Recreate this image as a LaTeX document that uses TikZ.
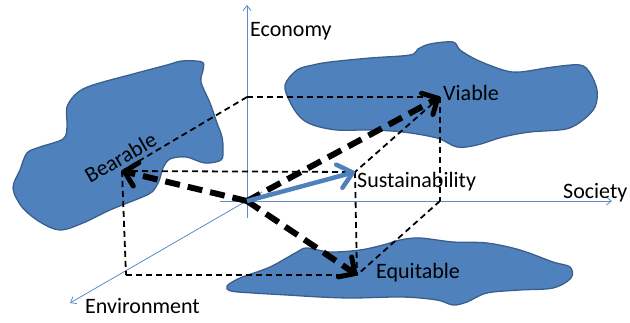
\documentclass[tikz,border=0pt]{standalone}
\usepackage{fontspec}
\setmainfont{Carlito}
\usetikzlibrary{arrows.meta}
\definecolor{blobfill}{HTML}{4F81BD}
\definecolor{blobline}{HTML}{3A5F8F}
\definecolor{axisblue}{HTML}{5B8BC9}
\tikzset{
  blob/.style={fill=blobfill, draw=blobline, line width=1.3pt},
  axis/.style={draw=axisblue, line width=0.8pt, -{Straight Barb[length=5pt,width=8pt,line width=0.8pt]}},
  thindash/.style={draw=black, line width=1.8pt, dash pattern=on 6pt off 4pt},
  thickarrow/.style={draw=black, line width=6pt, dash pattern=on 15pt off 8pt,
     -{Straight Barb[length=12pt,width=24pt,line width=5pt,round]}},
  bluearrow/.style={draw=blobfill, line width=4.5pt,
     -{Straight Barb[length=14pt,width=24pt,line width=4.5pt,round]}},
  lab/.style={font=\fontsize{22}{26}\selectfont, inner sep=0pt, anchor=base west}
}
\begin{document}
\begin{tikzpicture}[x=1pt,y=-1pt]
\useasboundingbox (0,0) rectangle (630,322);
% blobs
\path[blob] plot[smooth cycle, tension=0.55] coordinates {
 (182,61) (202,62) (203,70) (201,82) (210,103) (217,123) (222,137) (223,150) (221,160)
 (205,163) (186,157) (170,159) (163,168) (159,181) (152,192) (140,198) (110,210)
 (83,223) (60,230) (40,222) (22,207) (13,188) (20,170) (27,153) (40,147) (63,139)
 (67,127) (67,107) (77,93) (93,85) (133,74) (167,65)};
\path[blob] plot[smooth cycle, tension=0.55] coordinates {
 (285,85) (297,70) (313,65) (330,62) (370,58) (410,55) (418,49) (430,44) (453,42)
 (460,50) (477,60) (503,70) (520,72) (553,67) (580,65) (590,73) (597,90) (595,107)
 (583,120) (566,129) (530,132) (503,137) (477,145) (457,147) (437,138) (403,132)
 (370,130) (337,130) (313,125) (300,117) (290,102)};
\path[blob] plot[smooth cycle, tension=0.55] coordinates {
 (227,286) (240,278) (270,267) (297,252) (307,248) (330,252) (360,250) (383,245)
 (400,240) (420,238) (453,242) (487,243) (520,250) (553,262) (570,267) (571,278)
 (553,288) (520,290) (487,293) (467,302) (453,305) (437,300) (403,297) (353,298)
 (320,297) (287,295) (253,293) (231,291)};
% coordinates
\coordinate (O) at (247,201);
\coordinate (B) at (122,171);
\coordinate (V) at (440,97);
\coordinate (E) at (357,275);
\coordinate (S) at (355,172);
\coordinate (TL) at (247,97);
\coordinate (BL) at (126,275);
\coordinate (RB) at (440,201);
\coordinate (ytop) at (247,5);
\coordinate (ybot) at (247,218);
\coordinate (xleft) at (220,201);
\coordinate (xright) at (612,201);
\coordinate (zback) at (262,192);
\coordinate (zfront) at (70,303);
% axes
\draw[axis] (ybot) -- (ytop);
\draw[axis] (xleft) -- (xright);
\draw[axis] (zback) -- (zfront);
% dashed cube
\draw[thindash] (TL) -- (V);
\draw[thindash] (TL) -- (B);
\draw[thindash] (B) -- (S);
\draw[thindash] (B) -- (BL);
\draw[thindash] (BL) -- (E);
\draw[thindash] (S) -- (E);
\draw[thindash] (V) -- (S);
\draw[thindash] (V) -- (RB);
\draw[thindash] (RB) -- (E);
% arrows
\draw[thickarrow] (O) -- (B);
\draw[thickarrow] (O) -- (V);
\draw[thickarrow] (O) -- (E);
\draw[bluearrow] (O) -- (S);
% labels
\node[lab] (economy) at (250,36) {Economy};
\node[lab] (viable) at (443,100) {Viable};
\node[lab] (sust) at (357,187) {Sustainability};
\node[lab] (society) at (563,198) {Society};
\node[lab] (equit) at (376,278) {Equitable};
\node[lab] (env) at (85,313) {Environment};
\node[lab, rotate=30] (bear) at (90,184) {Bearable};
\end{tikzpicture}
\end{document}
